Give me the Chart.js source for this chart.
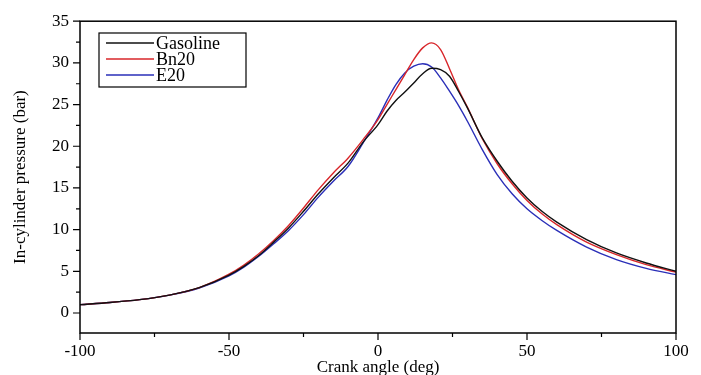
<!DOCTYPE html>
<html><head><meta charset="utf-8">
<script src="https://cdn.jsdelivr.net/npm/chart.js@4/dist/chart.umd.min.js"></script>
<style>html,body{margin:0;padding:0;background:#fff}#wrap{width:701px;height:375px}</style>
</head><body><div id="wrap"><canvas id="c" width="701" height="375"></canvas></div>
<script>
const angles = [-100,-90,-80,-70,-60,-50,-45,-40,-35,-30,-25,-20,-15,-10,-5,0,3,6,9,12,15,18,21,24,27,30,35,40,45,50,55,60,70,80,90,100];
const gasoline = [1.0,1.25,1.6,2.15,3.05,4.55,5.6,6.9,8.5,10.2,12.2,14.3,16.2,18.0,20.5,22.6,24.2,25.5,26.5,27.6,28.7,29.35,29.2,28.4,26.6,24.6,21.0,18.2,15.8,13.8,12.2,10.9,8.8,7.2,6.0,5.0];
const bn20 = [1.0,1.25,1.6,2.15,3.05,4.65,5.75,7.1,8.7,10.5,12.6,14.8,16.8,18.6,20.8,23.2,25.0,26.8,28.6,30.4,31.8,32.4,31.6,29.3,26.8,24.7,20.9,17.9,15.5,13.5,11.9,10.6,8.5,7.0,5.8,4.9];
const e20 = [1.0,1.25,1.6,2.15,3.0,4.45,5.5,6.8,8.3,9.9,11.8,13.9,15.8,17.6,20.4,23.4,25.5,27.4,28.8,29.6,29.9,29.5,28.2,26.6,24.9,23.0,19.6,16.6,14.3,12.5,11.1,9.9,7.9,6.4,5.35,4.6];
const seriesNames = ['Gasoline','Bn20','E20'];
const xTicks = [-100,-50,0,50,100];
const xMinorTicks = [-75,-25,25,75];
const yTicks = [0,5,10,15,20,25,30,35];
const yMinorTicks = [2.5,7.5,12.5,17.5,22.5,27.5,32.5];

const SERIF = '"Liberation Serif", "DejaVu Serif", serif';
const toXY = arr => angles.map((a,i)=>({x:a,y:arr[i]}));

const framePlugin = {
  id:'frame',
  afterDraw(chart){
    const {ctx, chartArea:ca, scales:{x,y}} = chart;
    ctx.save();
    ctx.strokeStyle='#000';
    ctx.lineWidth=1.5;
    ctx.strokeRect(ca.left, ca.top, ca.right-ca.left, ca.bottom-ca.top);
    ctx.lineWidth=1.2;
    ctx.beginPath();
    xTicks.forEach(v=>{const p=x.getPixelForValue(v); ctx.moveTo(p,ca.bottom); ctx.lineTo(p,ca.bottom+7);});
    xMinorTicks.forEach(v=>{const p=x.getPixelForValue(v); ctx.moveTo(p,ca.bottom); ctx.lineTo(p,ca.bottom+4);});
    yTicks.forEach(v=>{const p=y.getPixelForValue(v); ctx.moveTo(ca.left,p); ctx.lineTo(ca.left-7,p);});
    yMinorTicks.forEach(v=>{const p=y.getPixelForValue(v); ctx.moveTo(ca.left,p); ctx.lineTo(ca.left-4,p);});
    ctx.stroke();
    // legend
    const lx=99, ly=33, lw=147, lh=54;
    ctx.lineWidth=1.2;
    ctx.strokeRect(lx,ly,lw,lh);
    ctx.font='18px '+SERIF;
    ctx.textBaseline='middle';
    ctx.fillStyle='#000';
    chart.data.datasets.forEach((ds,i)=>{
      const yy = ly+10+i*16;
      ctx.strokeStyle=ds.borderColor;
      ctx.lineWidth=1.3;
      ctx.beginPath(); ctx.moveTo(lx+7,yy); ctx.lineTo(lx+55,yy); ctx.stroke();
      ctx.fillText(ds.label, lx+57, yy+1);
    });
    ctx.restore();
  }
};

new Chart(document.getElementById('c'), {
  type:'line',
  data:{datasets:[
    {label:seriesNames[0], data:toXY(gasoline), borderColor:'#111111'},
    {label:seriesNames[1], data:toXY(bn20), borderColor:'#d8262a'},
    {label:seriesNames[2], data:toXY(e20), borderColor:'#2a2fb8'}
  ].map(d=>Object.assign(d,{borderWidth:1.4,pointRadius:0,fill:false,cubicInterpolationMode:'monotone'}))},
  options:{
    responsive:false, animation:false,
    layout:{padding:{top:17,right:25,left:0,bottom:0}},
    plugins:{legend:{display:false},tooltip:{enabled:false}},
    scales:{
      x:{type:'linear',min:-100,max:100,
        grid:{display:false,drawTicks:false},border:{display:false},
        afterBuildTicks:s=>{s.ticks=xTicks.map(v=>({value:v}));},
        afterFit:s=>{s.height=42;},
        ticks:{color:'#000',font:{family:SERIF,size:17},padding:8,maxRotation:0},
        title:{display:true,text:'Crank angle (deg)',color:'#000',font:{family:SERIF,size:17},padding:{top:0,bottom:-3}}
      },
      y:{type:'linear',min:-2.4,max:35,
        grid:{display:false,drawTicks:false},border:{display:false},
        afterBuildTicks:s=>{s.ticks=yTicks.map(v=>({value:v}));},
        afterFit:s=>{s.width=80;},
        ticks:{color:'#000',font:{family:SERIF,size:17},padding:11},
        title:{display:true,text:'In-cylinder pressure (bar)',color:'#000',font:{family:SERIF,size:17},padding:{top:10,bottom:4}}
      }
    }
  },
  plugins:[framePlugin]
});
</script></body></html>
